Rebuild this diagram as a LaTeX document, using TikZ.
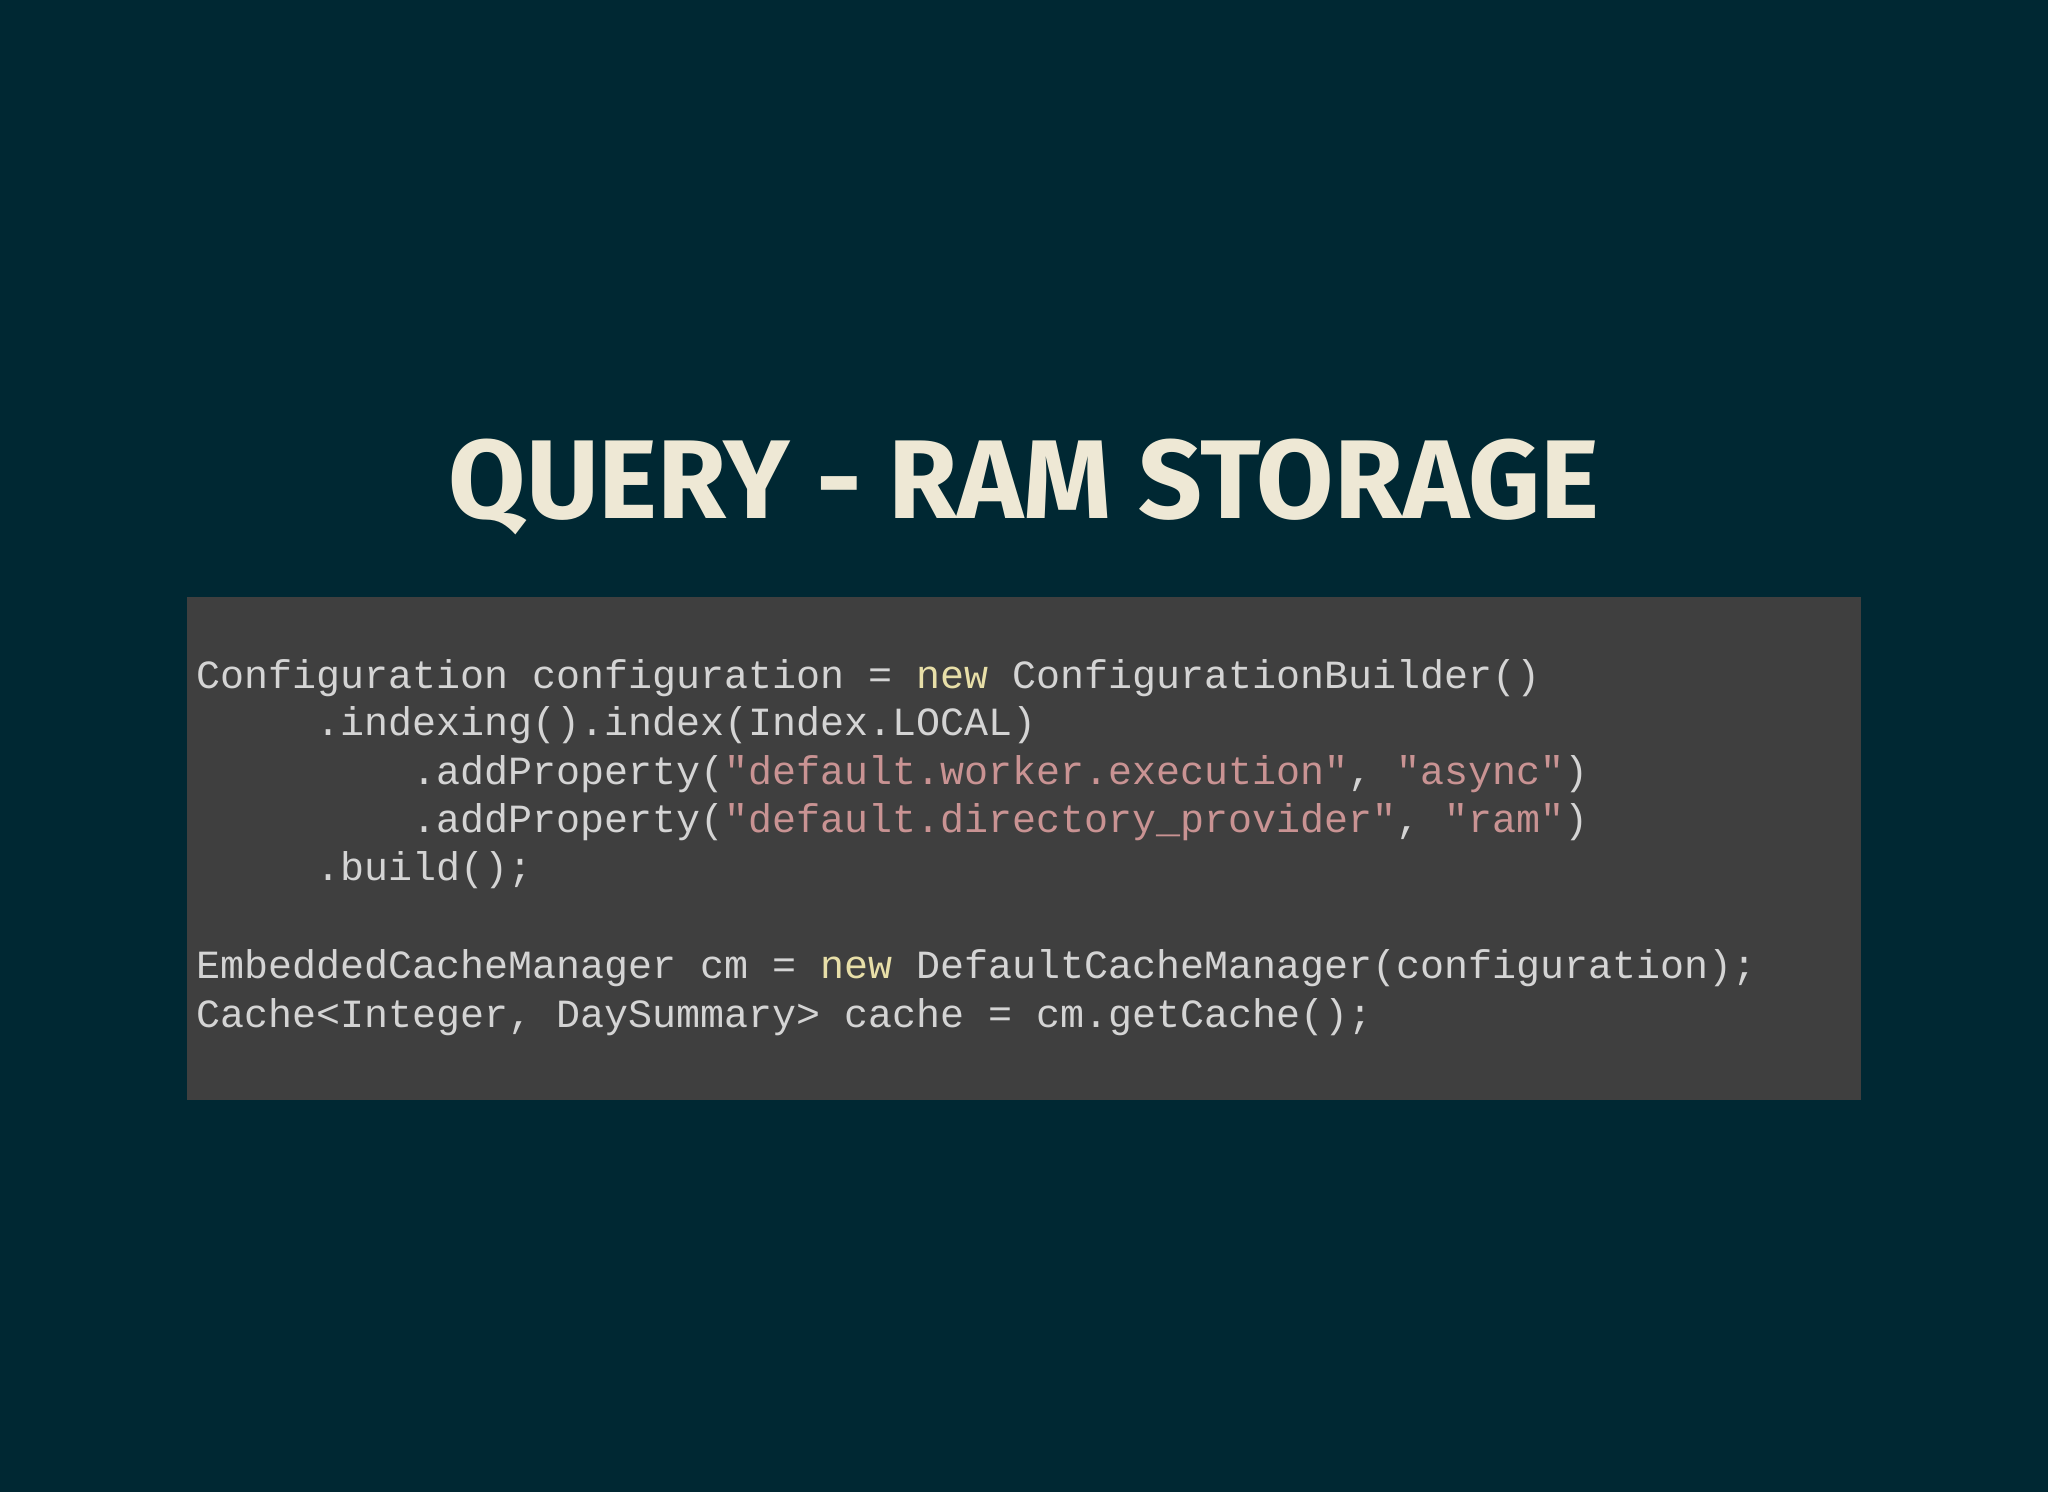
\documentclass[tikz,border=0pt]{standalone}
\usepackage{fontspec}
\newfontfamily\codef{Liberation Mono}
\newfontfamily\titlef{Fira Sans}
\definecolor{bg}{HTML}{002833}
\definecolor{box}{HTML}{3F3F3F}
\definecolor{ttl}{HTML}{EEE8D5}
\definecolor{txt}{HTML}{D4D4D4}
\definecolor{kw}{HTML}{E8DFA8}
\definecolor{str}{HTML}{C99393}
\newcommand{\K}[1]{\textcolor{kw}{#1}}
\newcommand{\Sg}[1]{\textcolor{str}{#1}}
\newcommand{\ind}[1]{\hspace*{#1\fontcharwd\font`x}}
\begin{document}
\begin{tikzpicture}[x=0.5pt,y=-0.5pt,
  codeline/.style={anchor=base west,inner sep=0,text=txt,font=\codef\fontsize{20}{24}\selectfont}]
\fill[bg] (0,0) rectangle (2048,1492);
\useasboundingbox (0,0) rectangle (2048,1492);
\node[fill=box,minimum width=837pt,minimum height=251.5pt,anchor=north west,inner sep=0] (codebox) at (187,597) {};
\node[text=ttl,font=\titlef\bfseries\fontsize{56}{60}\selectfont,anchor=base] (title) at (1024,518) {QUERY - RAM STORAGE};
\node[codeline] (l1) at (196,688) {Configuration configuration = \K{new} ConfigurationBuilder()};
\node[codeline] (l2) at (196,735) {\ind{5}.indexing().index(Index.LOCAL)};
\node[codeline] (l3) at (196,784) {\ind{9}.addProperty(\Sg{"default.worker.execution"}, \Sg{"async"})};
\node[codeline] (l4) at (196,832) {\ind{9}.addProperty(\Sg{"default.directory\_provider"}, \Sg{"ram"})};
\node[codeline] (l5) at (196,880) {\ind{5}.build();};
\node[codeline] (l6) at (196,978) {EmbeddedCacheManager cm = \K{new} DefaultCacheManager(configuration);};
\node[codeline] (l7) at (196,1027) {Cache<Integer, DaySummary> cache = cm.getCache();};
\end{tikzpicture}
\end{document}
